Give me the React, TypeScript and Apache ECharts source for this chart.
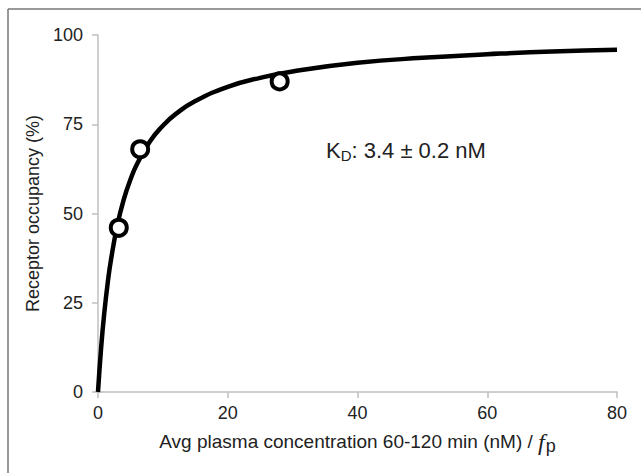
import React, { useEffect, useRef } from "react";
import * as echarts from "echarts";

const xTicks = [0, 20, 40, 60, 80];
const yTicks = [0, 25, 50, 75, 100];
const fitX = [0, 0.5, 1, 1.5, 2, 3, 4, 5, 6, 8, 10, 12, 15, 20, 25, 30, 40, 50, 60, 70, 80];
const fitY = [0, 12.8, 22.7, 30.6, 37.0, 46.9, 54.1, 59.5, 63.8, 70.2, 74.6, 77.9, 81.5, 85.5, 88.0, 89.8, 92.2, 93.6, 94.6, 95.4, 95.9];
const obsX = [3.2, 6.5, 28];
const obsY = [46, 68, 87];

export default function App() {
  const ref = useRef<HTMLDivElement>(null);
  useEffect(() => {
    if (!ref.current) return;
    const chart = echarts.init(ref.current, undefined, { renderer: "svg" });
    const font = "Liberation Sans, Arial, sans-serif";
    const axisGray = "#bfbfbf";
    chart.setOption({
      animation: false,
      backgroundColor: "#ffffff",
      grid: { left: 98, right: 24, top: 35, bottom: 81, containLabel: false },
      xAxis: {
        type: "value",
        min: xTicks[0],
        max: xTicks[xTicks.length - 1],
        interval: 20,
        splitLine: { show: false },
        axisLine: { show: true, lineStyle: { color: axisGray, width: 1.5 } },
        axisTick: { show: true, length: 6, lineStyle: { color: axisGray, width: 1.5 } },
        axisLabel: { color: "#222", fontSize: 18, fontFamily: font, margin: 12 },
        name: "{a|Avg plasma concentration 60-120 min (nM) / }{f|f}{p|p}",
        nameLocation: "middle",
        nameGap: 36,
        nameTextStyle: {
          rich: {
            a: { fontSize: 19, fontFamily: font, color: "#222" },
            f: { fontSize: 24, fontFamily: "Liberation Serif, serif", fontStyle: "italic", color: "#222" },
            p: { fontSize: 18, fontFamily: font, color: "#222", verticalAlign: "bottom", padding: [9, 0, 0, 1] },
          },
        },
      },
      yAxis: {
        type: "value",
        min: yTicks[0],
        max: yTicks[yTicks.length - 1],
        interval: 25,
        splitLine: { show: false },
        axisLine: { show: true, lineStyle: { color: axisGray, width: 1.5 } },
        axisTick: { show: true, length: 6, lineStyle: { color: axisGray, width: 1.5 } },
        axisLabel: { color: "#222", fontSize: 18, fontFamily: font, margin: 15 },
        name: "Receptor occupancy (%)",
        nameLocation: "middle",
        nameGap: 56,
        nameTextStyle: { fontSize: 18, fontFamily: font, color: "#222" },
      },
      series: [
        {
          type: "line",
          data: fitX.map((x, i) => [x, fitY[i]]),
          smooth: true,
          showSymbol: false,
          lineStyle: { color: "#000", width: 4.5 },
          z: 2,
        },
        {
          type: "scatter",
          data: obsX.map((x, i) => [x, obsY[i]]),
          symbol: "circle",
          symbolSize: 16,
          itemStyle: { color: "#fff", borderColor: "#000", borderWidth: 4, opacity: 1 },
          z: 3,
        },
      ],
      graphic: [
        { type: "line", shape: { x1: 8, y1: 9, x2: 641, y2: 9 }, style: { stroke: "#777", lineWidth: 1.5 } },
        { type: "line", shape: { x1: 8, y1: 9, x2: 8, y2: 473 }, style: { stroke: "#777", lineWidth: 1.5 } },
        {
          type: "text",
          left: 326,
          top: 139,
          style: {
            text: "{k|K}{d|D}{k|: 3.4 ± 0.2 nM}",
            rich: {
              k: { fontSize: 22, fontFamily: font, fill: "#222" },
              d: { fontSize: 15, fontFamily: font, fill: "#222", verticalAlign: "bottom", padding: [10, 0, 0, 0] },
            },
          },
        },
      ],
    });
    return () => chart.dispose();
  }, []);
  return <div ref={ref} style={{ width: 641, height: 473, position: "absolute", left: 0, top: 0 }} />;
}
